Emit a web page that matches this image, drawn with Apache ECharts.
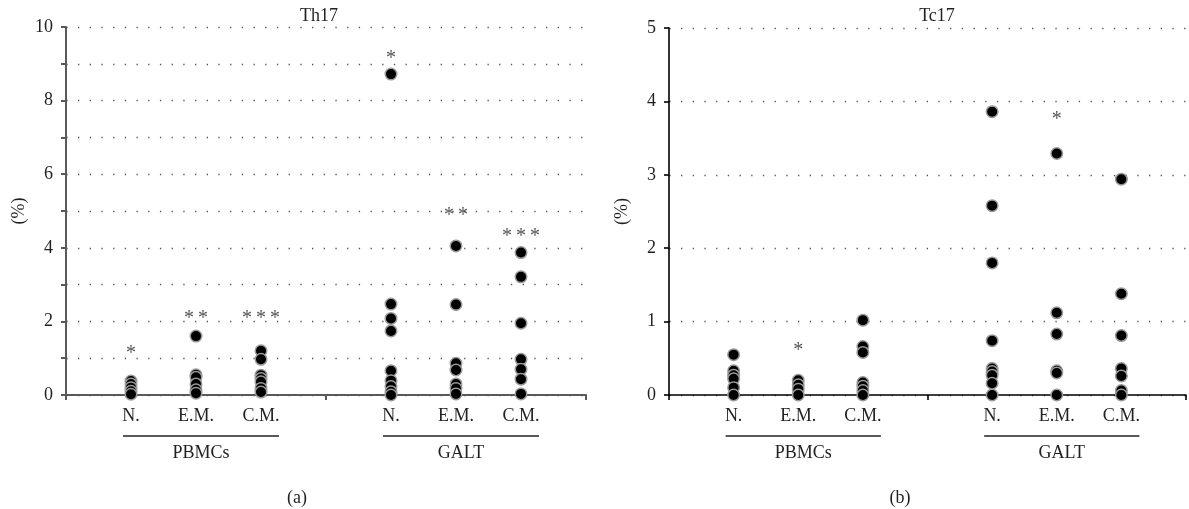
<!DOCTYPE html>
<html>
<head>
<meta charset="utf-8">
<script src="https://cdn.jsdelivr.net/npm/echarts@6.0.0/dist/echarts.min.js"></script>
<style>
  html, body { margin: 0; padding: 0; background: #fff; }
  #chart { width: 1189px; height: 509px; }
</style>
</head>
<body>
<div id="chart"></div>
<script>
  // categories
  const cellTypes = ['N.', 'E.M.', 'C.M.'];
  const tissues = ['PBMCs', 'GALT'];
  const xCats = ['', ...cellTypes, '', ...cellTypes, ''];

  // Th17 (%)
  const th17PbmcN = [0.38, 0.3, 0.2, 0.1, 0.02];
  const th17PbmcEM = [1.6, 0.55, 0.48, 0.3, 0.14, 0.05];
  const th17PbmcCM = [1.2, 0.97, 0.54, 0.45, 0.36, 0.18, 0.08];
  const th17GaltN = [8.72, 2.47, 2.08, 1.74, 0.66, 0.39, 0.23, 0.09, 0];
  const th17GaltEM = [4.05, 2.46, 0.86, 0.68, 0.3, 0.18, 0.03];
  const th17GaltCM = [3.87, 3.21, 1.95, 0.97, 0.7, 0.43, 0.03];
  const th17Stars = ['*', '**', '***', '*', '**', '***'];
  const th17StarY = [1.22, 2.17, 2.17, 9.24, 4.98, 4.4];

  // Tc17 (%)
  const tc17PbmcN = [0.55, 0.33, 0.27, 0.22, 0.1, 0];
  const tc17PbmcEM = [0.2, 0.14, 0.08, 0];
  const tc17PbmcCM = [1.02, 0.66, 0.58, 0.17, 0.12, 0.06, 0];
  const tc17GaltN = [3.86, 2.58, 1.8, 0.74, 0.36, 0.32, 0.27, 0.16, 0];
  const tc17GaltEM = [3.29, 1.12, 0.83, 0.33, 0.3, 0];
  const tc17GaltCM = [2.94, 1.38, 0.81, 0.36, 0.26, 0.06, 0];
  const tc17Stars = ['', '*', '', '', '*', ''];
  const tc17StarY = [0, 0.66, 0, 0, 3.8, 0];

  const yTicksTh17 = [0, 2, 4, 6, 8, 10];
  const yTicksTc17 = [0, 1, 2, 3, 4, 5];

  const font = '"Liberation Serif", "DejaVu Serif", serif';
  const ink = '#231f20';

  const catIndex = g => 1 + Math.floor(g / 3) * 4 + g % 3;

  function pointSeries(k, lists) {
    const data = [];
    lists.forEach((vals, g) => vals.forEach(v => data.push([catIndex(g), v])));
    return {
      type: 'scatter', xAxisIndex: k, yAxisIndex: k, data: data,
      symbolSize: 11.5, clip: false, silent: true,
      itemStyle: { color: '#000', borderColor: '#9a9a9a', borderWidth: 1.5, opacity: 1 }
    };
  }

  function starSeries(k, stars, ys) {
    const data = [];
    stars.forEach((s, g) => {
      if (!s) return;
      data.push({ value: [catIndex(g), ys[g]], label: { formatter: s.split('').join('\u2009') } });
    });
    return {
      type: 'scatter', xAxisIndex: k, yAxisIndex: k, data: data,
      symbolSize: 1, clip: false, silent: true,
      itemStyle: { color: 'transparent' },
      label: { show: true, position: 'inside', offset: [0, 4], color: ink, fontSize: 20, fontFamily: font }
    };
  }

  function xAxis(k, color, width) {
    return {
      type: 'category', gridIndex: k, data: xCats, boundaryGap: false,
      axisLine: { lineStyle: { color: color, width: width } },
      axisTick: { show: true, length: 5, interval: i => i % 4 === 0, lineStyle: { color: color, width: width } },
      axisLabel: { interval: 0, margin: 12, color: ink, fontSize: 18, fontFamily: font },
      splitLine: { show: false }
    };
  }

  function yAxis(k, max, ticks, color, width) {
    return {
      type: 'value', gridIndex: k, min: 0, max: max, interval: 1,
      name: '(%)', nameLocation: 'middle', nameGap: 38, nameRotate: 90,
      nameTextStyle: { color: ink, fontSize: 18, fontFamily: font },
      axisLine: { show: true, lineStyle: { color: color, width: width } },
      axisTick: { show: true, length: 5, lineStyle: { color: color, width: width } },
      axisLabel: {
        margin: 13, color: ink, fontSize: 18, fontFamily: font,
        formatter: v => ticks.indexOf(v) >= 0 ? String(v) : ''
      },
      splitLine: { show: true, lineStyle: { color: '#555', width: 1.3, type: [1.3, 10.4], dashOffset: -12 } }
    };
  }

  const chart = echarts.init(document.getElementById('chart'));
  chart.setOption({
    animation: false,
    backgroundColor: '#fff',
    title: [
      { text: 'Th17', left: 314, top: 2, textAlign: 'center', textStyle: { color: ink, fontSize: 18, fontWeight: 'normal', fontFamily: font } },
      { text: 'Tc17', left: 932, top: 2, textAlign: 'center', textStyle: { color: ink, fontSize: 18, fontWeight: 'normal', fontFamily: font } },
      { text: '(a)', left: 292, top: 484, textAlign: 'center', textStyle: { color: ink, fontSize: 18, fontWeight: 'normal', fontFamily: font } },
      { text: '(b)', left: 895, top: 484, textAlign: 'center', textStyle: { color: ink, fontSize: 18, fontWeight: 'normal', fontFamily: font } }
    ],
    grid: [
      { left: 66, top: 27, width: 520, bottom: 114 },
      { left: 669, top: 28, width: 519, bottom: 114 }
    ],
    xAxis: [xAxis(0, '#58595b', 2), xAxis(1, '#000', 1.6)],
    yAxis: [yAxis(0, 10, yTicksTh17, '#58595b', 2), yAxis(1, 5, yTicksTc17, '#000', 1.6)],
    series: [
      pointSeries(0, [th17PbmcN, th17PbmcEM, th17PbmcCM, th17GaltN, th17GaltEM, th17GaltCM]),
      starSeries(0, th17Stars, th17StarY),
      pointSeries(1, [tc17PbmcN, tc17PbmcEM, tc17PbmcCM, tc17GaltN, tc17GaltEM, tc17GaltCM]),
      starSeries(1, tc17Stars, tc17StarY)
    ]
  });

  // group brackets under the category labels
  const graphic = [];
  [0, 1].forEach(k => {
    tissues.forEach((t, ti) => {
      const first = 1 + ti * 4, last = first + 2;
      const x1 = chart.convertToPixel({ xAxisIndex: k }, first) - 8;
      const x2 = chart.convertToPixel({ xAxisIndex: k }, last) + 18;
      graphic.push({
        type: 'line', shape: { x1: x1, y1: 436, x2: x2, y2: 436 },
        style: { stroke: ink, lineWidth: 1.3 }, silent: true
      });
      graphic.push({
        type: 'text', x: (x1 + x2) / 2, y: 453,
        style: { text: t, fill: ink, fontSize: 18, fontFamily: font, textAlign: 'center', textVerticalAlign: 'middle' },
        silent: true
      });
    });
  });
  chart.setOption({ graphic: graphic });
</script>
</body>
</html>
